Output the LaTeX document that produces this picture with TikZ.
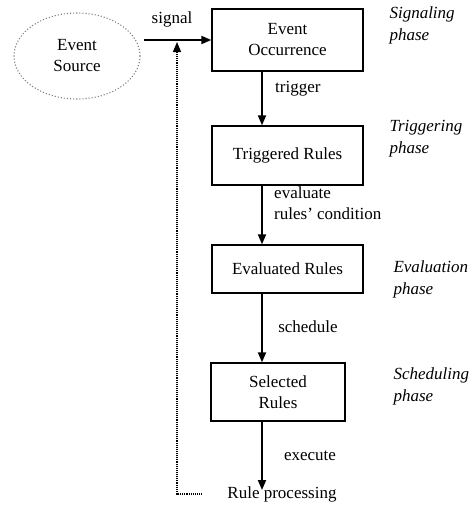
\documentclass[tikz,border=0pt]{standalone}
\usepackage{fontspec}
\setmainfont{Liberation Serif}
\usetikzlibrary{positioning}
\usetikzlibrary{calc}
\usetikzlibrary{arrows.meta}
\usetikzlibrary{shapes.geometric}

\begin{document}
\begin{tikzpicture}[x=1pt, y=-1pt, font=\fontsize{17}{21}\selectfont,
    box/.style={draw, line width=1.3pt, align=center, inner sep=2pt},
    arr/.style={-{Triangle[width=8pt,length=10pt]}, line width=1.8pt},
    phase/.style={align=left, anchor=west, font=\fontsize{17}{22}\selectfont\itshape},
    lbl/.style={inner sep=1pt}]
            \useasboundingbox (0,0) rectangle (476,517);
            \coordinate (spine) at (262,0);
            % boxes
            \node[draw=gray, dotted, line width=1.1pt, ellipse, minimum width=126pt, minimum height=86pt, align=center] (src) at (77,56) {Event\\Source};
            \node[box, minimum width=151pt, minimum height=62pt] (occ) at (287.5,40) {Event\\Occurrence};
            \node[box, minimum width=151pt, minimum height=59pt] (trig) at (287.5,155.5) {Triggered Rules};
            \node[box, minimum width=151pt, minimum height=48pt] (eval) at (287.5,269) {Evaluated Rules};
            \node[box, minimum width=134pt, minimum height=58pt] (sel) at (278,392) {Selected\\Rules};
            \node[lbl] (rp) at (282,494) {Rule processing};
            \coordinate (exe) at (262,490);
            \coordinate (fb) at (177,40);
            \coordinate (sig) at (144,40);
    
            % arrows
            \draw[arr] (sig) -- (occ.west);
            \draw[arr] (occ.south -| spine) -- (trig.north -| spine);
            \draw[arr] (trig.south -| spine) -- (eval.north -| spine);
            \draw[arr] (eval.south -| spine) -- (sel.north -| spine);
            \draw[arr] (sel.south -| spine) -- (exe);
            \draw[densely dotted, line width=1.1pt, shorten <=24pt, -{Triangle[width=8pt,length=10pt]}] (rp.west) -| ($(fb)+(0,2)$);

            % labels
            \node[lbl] (lsig) at (172,19) {signal};
            \node[lbl, anchor=west] (ltrig) at (274,89) {trigger};
            \node[lbl, anchor=north west, align=left, font=\fontsize{17}{21}\selectfont] (leval) at (273,186) {evaluate\\rules’ condition};
            \node[lbl] (lsched) at (308,327) {schedule};
            \node[lbl] (lexe) at (310,456) {execute};

            % phases
            \node[phase] (p1) at (386,25) {Signaling\\phase};
            \node[phase] (p2) at (386,139) {Triggering\\phase};
            \node[phase] (p3) at (390,279) {Evaluation\\phase};
            \node[phase] (p4) at (390,386) {Scheduling\\phase};
        \end{tikzpicture}
\end{document}
